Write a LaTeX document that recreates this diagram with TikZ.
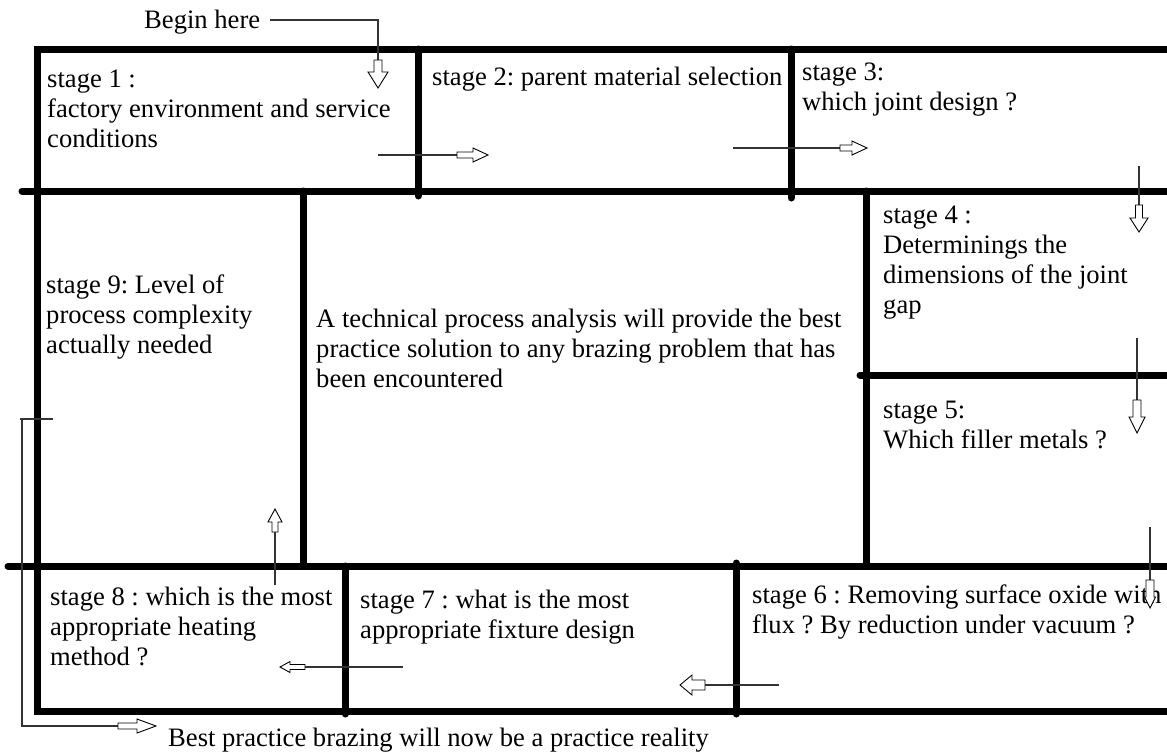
\documentclass[tikz,border=0pt]{standalone}
\usepackage{fontspec}
\setmainfont{Liberation Serif}
\frenchspacing
\begin{document}
\begin{tikzpicture}[x=1pt,y=-1pt,
  wall/.style={line width=7pt, line cap=round, line join=miter},
  frame/.style={line width=7pt, line cap=butt, line join=miter},
  link/.style={line width=1.2pt, black!80},
  stagetext/.style={anchor=base west, inner sep=0pt, align=left,
    font=\fontsize{26.6}{30}\selectfont},
  pics/harrow/.style n args={4}{code={
    \draw[line width=0.9pt, fill=white]
      (0,-#2) -- (#1,-#2) -- (#1,-#4) -- (#1+#3,0) -- (#1,#4) -- (#1,#2) -- (0,#2) -- cycle;
  }}]
\useasboundingbox (0,0) rectangle (1167,753);

% ---- grid of stage boxes ----
\draw[frame] (1175,49) -- (37,49) -- (37,711) -- (1175,711);
\draw[wall] (22,191) -- (1175,191);
\draw[wall] (418,49) -- (418,196);
\draw[wall] (791,49) -- (791,198);
\draw[wall] (303,191) -- (303,566);
\draw[wall] (866,191) -- (866,566);
\draw[wall] (860,375) -- (1175,375);
\draw[wall] (8,566) -- (1175,566);
\draw[wall] (345,566) -- (345,714);
\draw[wall] (736,563) -- (736,714);

% ---- texts (anchored at the baseline of the last line) ----
\node[stagetext] (begin) at (144,28) {Begin here};
\node[stagetext] (s1) at (47,147) {stage 1 :\\factory environment and service\\conditions};
\node[stagetext] (s2) at (432,85) {stage 2: parent material selection};
\node[stagetext] (s3) at (802,110) {stage 3:\\which joint design ?};
\node[stagetext] (s4) at (883,313) {stage 4 :\\Determinings the\\dimensions of the joint\\gap};
\node[stagetext] (s5) at (883,448) {stage 5:\\Which filler metals ?};
\node[stagetext] (s9) at (46,353) {stage 9: Level of\\process complexity\\actually needed};
\node[stagetext] (center) at (316,387) {A technical process analysis will provide the best\\practice solution to any brazing problem that has\\been encountered};
\node[stagetext] (s8) at (50,665) {stage 8 : which is the most\\appropriate heating\\method ?};
\node[stagetext] (s7) at (360,638) {stage 7 : what is the most\\appropriate fixture design};
\node[stagetext] (s6) at (752,633) {stage 6 : Removing surface oxide with\\flux ? By reduction under vacuum ?};
\node[stagetext] (best) at (168,746) {Best practice brazing will now be a practice reality};

% ---- connector end points ----
\coordinate (b0) at (270,20);
\coordinate (b1) at (378,60);
\coordinate (a12) at (378,155);  \coordinate (h12) at (457,155);
\coordinate (a23) at (733,148);  \coordinate (h23) at (840,148);
\coordinate (a34) at (1139,166); \coordinate (h34) at (1139,205);
\coordinate (a45) at (1137,338); \coordinate (h45) at (1137,400);
\coordinate (a56) at (1150,527); \coordinate (h56) at (1150,580);
\coordinate (a67) at (779,685);  \coordinate (h67) at (705,685);
\coordinate (a78) at (403,667);  \coordinate (h78) at (305,667);
\coordinate (a89) at (275,585);  \coordinate (h89) at (275,532);
\coordinate (t0) at (20,419);    \coordinate (t1) at (53,419);
\coordinate (e0) at (22,419);    \coordinate (e1) at (22,726);
\coordinate (he) at (118,726);

% ---- connectors ----
\draw[link] (b0) -| (b1);
\draw[link] (a12) -- (h12);
\draw[link] (a23) -- (h23);
\draw[link] (a34) -- (h34);
\draw[link] (a45) -- (h45);
\draw[link] (a56) -- (h56);
\draw[link] (a67) -- (h67);
\draw[link] (a78) -- (h78);
\draw[link] (a89) -- (h89);
\draw[link] (t0) -- (t1);
\draw[link] (e0) -- (e1) -- (he);

% ---- hollow block arrow heads ----
\pic[rotate=-90] at (b1) {harrow={12}{4}{16}{10}};
\pic at (h12) {harrow={16}{3}{15}{7}};
\pic at (h23) {harrow={12}{3}{15}{7}};
\pic[rotate=-90] at (h34) {harrow={13}{3.5}{14}{9}};
\pic[rotate=-90] at (h45) {harrow={17}{4}{16}{8}};
\pic[rotate=-90] at (h56) {harrow={17}{4}{11}{5.5}};
\pic[rotate=180] at (h67) {harrow={13}{5}{12}{10}};
\pic[rotate=180] at (h78) {harrow={15}{2.5}{10}{5.5}};
\pic[rotate=90] at (h89) {harrow={10}{3}{13}{7}};
\pic at (he) {harrow={19}{3}{19}{7}};
\end{tikzpicture}
\end{document}
